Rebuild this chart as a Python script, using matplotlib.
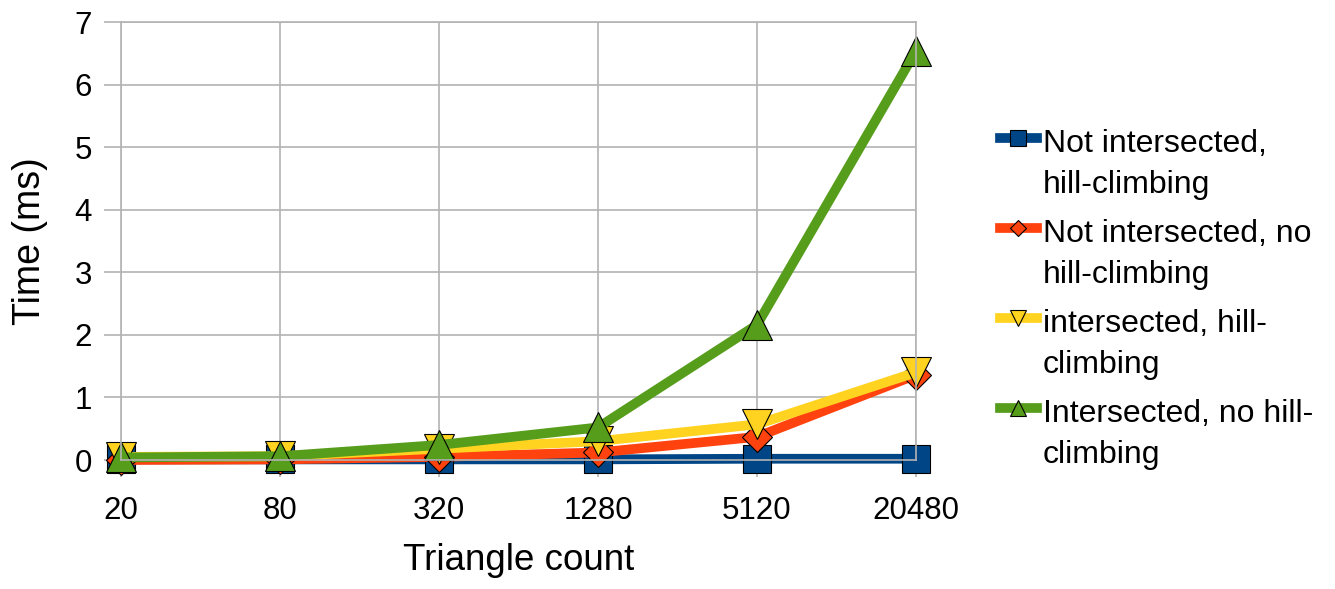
import matplotlib
matplotlib.use("Agg")
import matplotlib.pyplot as plt
from matplotlib.lines import Line2D

plt.rcParams['font.family'] = ['Liberation Sans', 'DejaVu Sans']

categories = ["20", "80", "320", "1280", "5120", "20480"]
not_int_hill = [0.01, 0.01, 0.01, 0.01, 0.02, 0.02]
not_int_nohill = [0.0, 0.01, 0.05, 0.12, 0.37, 1.36]
int_hill = [0.05, 0.06, 0.18, 0.3, 0.57, 1.4]
int_nohill = [0.04, 0.06, 0.24, 0.52, 2.16, 6.54]

series = [
    ("Not intersected,\nhill-climbing", not_int_hill, "#004586", "s", 20),
    ("Not intersected, no\nhill-climbing", not_int_nohill, "#ff420e", "D", 15),
    ("intersected, hill-\nclimbing", int_hill, "#ffd320", "v", 21),
    ("Intersected, no hill-\nclimbing", int_nohill, "#579d1c", "^", 21),
]

grid_col = "#b3b3b3"

fig = plt.figure(figsize=(13.35, 5.89), dpi=100)
ax = fig.add_axes([121 / 1335, 1 - 460 / 589, (916 - 121) / 1335, (460 - 22) / 589])

x = list(range(len(categories)))
for label, vals, color, marker, ms in series:
    ax.plot(x, vals, color=color, lw=7, marker=marker, ms=ms,
            markeredgecolor="black", markeredgewidth=0.8, clip_on=False)

ax.set_xlim(0, len(categories) - 1)
ax.set_ylim(0, 7)
ax.set_xticks(x)
ax.set_xticklabels(categories)
ax.set_yticks(range(8))
ax.grid(True, color=grid_col, lw=1.2)
ax.set_axisbelow(True)
for sp in ax.spines.values():
    sp.set_color(grid_col)
    sp.set_linewidth(1.2)
ax.tick_params(axis="both", colors=grid_col, labelcolor="black", labelsize=22.5,
               length=12, width=1.2)
ax.tick_params(axis="y", pad=9)
ax.tick_params(axis="x", pad=14)
ax.set_xlabel("Triangle count", fontsize=26.5, labelpad=12)
ax.set_ylabel("Time (ms)", fontsize=27, labelpad=19)

# legend drawn by hand so the key sits on the first text line
y0 = 1 - 138 / 589
step = 90 / 589
for i, (label, vals, color, marker, ms) in enumerate(series):
    yy = y0 - i * step
    fig.add_artist(Line2D([1000 / 1335, 1037 / 1335], [yy, yy], color=color, lw=7,
                          transform=fig.transFigure))
    fig.add_artist(Line2D([1018 / 1335], [yy], color=color, marker=marker,
                          ms=ms * 0.55, markeredgecolor="black", markeredgewidth=0.8,
                          linestyle="none", transform=fig.transFigure))
    fig.text(1043 / 1335, yy + 9 / 589, label, fontsize=23, va="top", ha="left",
             linespacing=1.47)

fig.savefig("out.png", dpi=100)
